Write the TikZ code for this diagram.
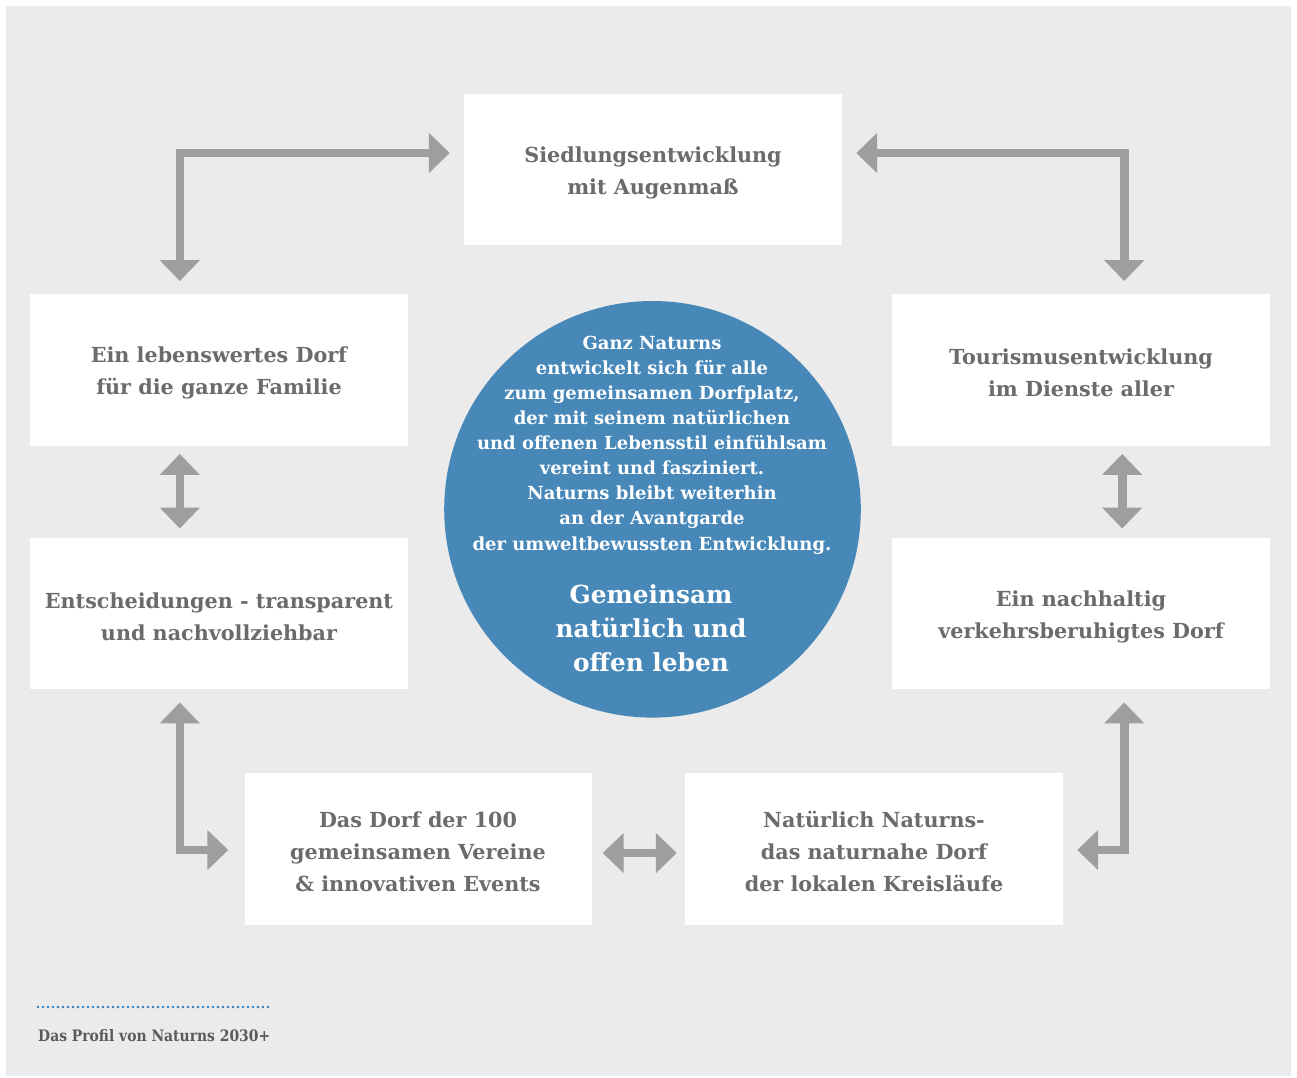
\documentclass[tikz,border=0pt]{standalone}
\usepackage{fontspec}
\setmainfont{DejaVu Serif}
\newfontfamily\footfont[FakeStretch=0.88]{DejaVu Serif}
\usetikzlibrary{arrows.meta}
\definecolor{bg}{RGB}{235,235,235}
\definecolor{arrowgray}{RGB}{157,158,157}
\definecolor{txtgray}{RGB}{107,107,107}
\definecolor{circblue}{RGB}{71,136,185}
\definecolor{dotblue}{RGB}{47,124,192}
\definecolor{footgray}{RGB}{90,90,90}
\newcommand\topgap{\rule{0pt}{21.8pt}}
\begin{document}
\begin{tikzpicture}[x=1pt,y=-1pt,
  card/.style={fill=white, draw=none, inner sep=0pt, align=center, text=txtgray,
    minimum width=378pt, minimum height=151.5pt,
    font=\fontsize{20.7}{32}\selectfont\bfseries},
  flow/.style={draw=arrowgray, line width=8.6pt, line join=miter,
    {Triangle[length=21pt,width=39pt]}-{Triangle[length=21pt,width=39pt]}},
  coretxt/.style={text=white, align=center, inner sep=0pt},
]
\useasboundingbox (0,0) rectangle (1297,1077);
\fill[white] (0,0) rectangle (1297,1077);
\fill[bg] (6,6) rectangle (1291,1076);

% boxes
\node[card] (top) at (653,169.5) {\topgap Siedlungsentwicklung\\mit Augenmaß};
\node[card] (l1) at (219,370) {\topgap Ein lebenswertes Dorf\\für die ganze Familie};
\node[card] (l2) at (219,613.5) {\topgap Entscheidungen - transparent\\und nachvollziehbar};
\node[card] (r1) at (1081,370) {\topgap Tourismusentwicklung\\im Dienste aller};
\node[card] (r2) at (1081,613.5) {\topgap Ein nachhaltig\\verkehrsberuhigtes Dorf};
\node[card, minimum width=347pt] (b1) at (418,849) {\topgap Das Dorf der 100\\gemeinsamen Vereine\\\& innovativen Events};
\node[card] (b2) at (874,849) {\topgap Natürlich Naturns-\\das naturnahe Dorf\\der lokalen Kreisläufe};

% central circle
\node[circle, fill=circblue, minimum size=416.6pt, inner sep=0pt] (core) at (652.5,509.3) {};
\node[coretxt, font=\fontsize{18}{25.1}\selectfont\bfseries] (vision) at (652,445)
  {Ganz Naturns\\entwickelt sich für alle\\zum gemeinsamen Dorfplatz,\\der mit seinem natürlichen\\und offenen Lebensstil einfühlsam\\vereint und fasziniert.\\Naturns bleibt weiterhin\\an der Avantgarde\\der umweltbewussten Entwicklung.};
\node[coretxt, font=\fontsize{24.8}{34}\selectfont\bfseries] (motto) at (651,628.6)
  {Gemeinsam\\natürlich und\\offen leben};

% connectors
\draw[flow] ([shift={(150,-13)}]l1.north west) |- ([shift={(-14,-16.5)}]top.west);
\draw[flow] ([shift={(14,-16.5)}]top.east) -| ([shift={(-146,-13)}]r1.north east);
\draw[flow] ([shift={(150,8)}]l1.south west) -- ([shift={(150,-9)}]l2.north west);
\draw[flow] ([shift={(-148,8)}]r1.south east) -- ([shift={(-148,-9)}]r2.north east);
\draw[flow] ([shift={(150,13)}]l2.south west) |- ([shift={(-16,1)}]b1.west);
\draw[flow] ([shift={(11,4)}]b1.east) -- ([shift={(-8,4)}]b2.west);
\draw[flow] ([shift={(-146,13)}]r2.south east) |- ([shift={(14,1)}]b2.east);

% footer
\coordinate (dotA) at (38,1007);
\coordinate (dotB) at (270,1007);
\draw[dotblue, line width=2.8pt, line cap=round, dash pattern=on 0pt off 5pt] (dotA) -- (dotB);
\node[anchor=base west, inner sep=0pt, text=footgray, font=\footfont\fontsize{15.8}{18}\selectfont\bfseries] (caption) at (38,1041.7) {Das Profil von Naturns 2030+};
\end{tikzpicture}
\end{document}
